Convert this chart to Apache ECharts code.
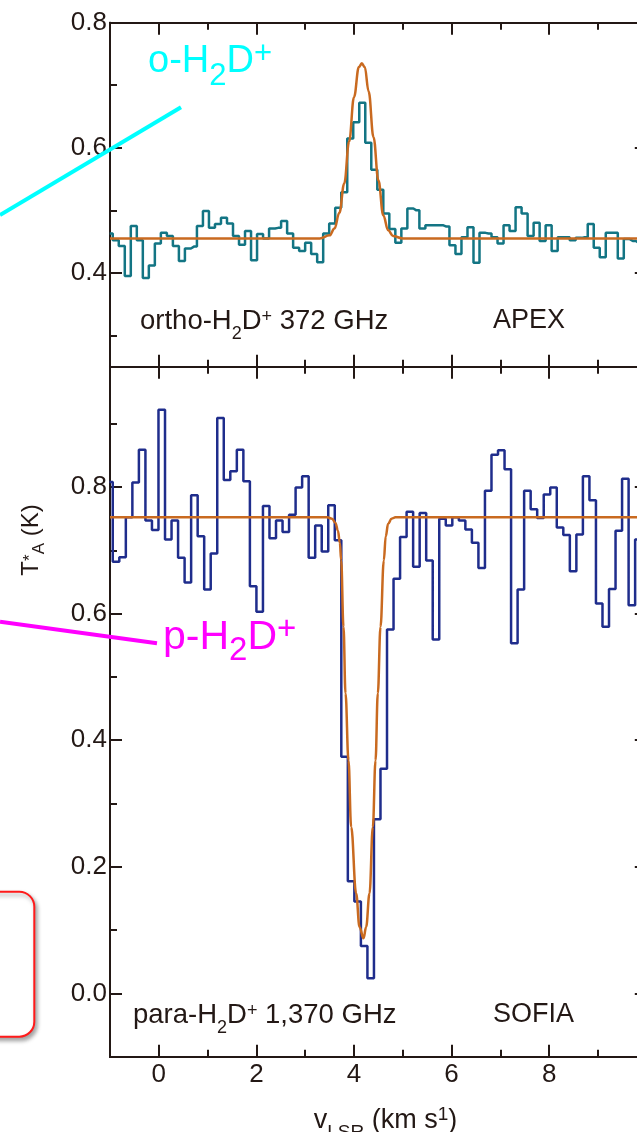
<!DOCTYPE html>
<html>
<head>
<meta charset="utf-8">
<title>H2D+ spectra</title>
<script src="https://cdn.jsdelivr.net/npm/echarts@6/dist/echarts.min.js"></script>
<style>
  html, body { margin: 0; padding: 0; background: #fff; }
  #chart { width: 637px; height: 1132px; }
</style>
</head>
<body>
<div id="chart"></div>
<script>
// ortho-H2D+ 372 GHz (APEX): channel grid (km/s) and antenna temperature (K)
const orthoVelStart = -1.005;
const orthoVelStep = 0.1232;
const orthoTa = [
  0.463, 0.452, 0.443, 0.395, 0.475, 0.452, 0.392, 0.412, 0.447, 0.464,
  0.459, 0.443, 0.419, 0.439, 0.442, 0.475, 0.499, 0.472, 0.478, 0.488,
  0.479, 0.459, 0.445, 0.467, 0.420, 0.462, 0.455, 0.471, 0.472, 0.483,
  0.463, 0.440, 0.435, 0.448, 0.430, 0.417, 0.463, 0.479, 0.504, 0.529,
  0.615, 0.641, 0.672, 0.608, 0.565, 0.533, 0.495, 0.470, 0.448, 0.471,
  0.503, 0.500, 0.471, 0.476, 0.476, 0.476, 0.474, 0.444, 0.430, 0.457,
  0.473, 0.416, 0.464, 0.463, 0.457, 0.447, 0.476, 0.467, 0.505, 0.495,
  0.459, 0.480, 0.451, 0.476, 0.435, 0.457, 0.457, 0.452, 0.456, 0.457,
  0.478, 0.440, 0.425, 0.464, 0.464, 0.423, 0.454, 0.451, 0.448,
];

// para-H2D+ 1,370 GHz (SOFIA)
const paraVelStart = -1.010;
const paraVelStep = 0.1338;
const paraTa = [
  0.808, 0.682, 0.689, 0.752, 0.807, 0.859, 0.747, 0.732, 0.922, 0.717,
  0.747, 0.688, 0.649, 0.787, 0.722, 0.638, 0.695, 0.909, 0.811, 0.825,
  0.859, 0.809, 0.643, 0.603, 0.770, 0.719, 0.747, 0.729, 0.756, 0.799,
  0.817, 0.688, 0.739, 0.698, 0.771, 0.716, 0.374, 0.177, 0.145, 0.075,
  0.024, 0.275, 0.355, 0.575, 0.655, 0.721, 0.761, 0.674, 0.759, 0.684,
  0.559, 0.750, 0.739, 0.752, 0.747, 0.733, 0.712, 0.672, 0.794, 0.851,
  0.858, 0.828, 0.553, 0.638, 0.794, 0.765, 0.751, 0.788, 0.799, 0.736,
  0.724, 0.667, 0.725, 0.817, 0.779, 0.616, 0.579, 0.639, 0.731, 0.813,
  0.613, 0.717,
];

// fitted profiles
const orthoFitVel = [-1.0, 3.0, 3.3, 3.5, 3.6, 3.7, 3.8, 3.9, 4.0, 4.1, 4.16, 4.22, 4.3, 4.4, 4.5, 4.6, 4.7, 4.8, 5.0, 5.3, 10.0];
const orthoFitTa = [0.455, 0.455, 0.455, 0.460, 0.471, 0.496, 0.543, 0.610, 0.681, 0.729, 0.735, 0.729, 0.690, 0.617, 0.548, 0.492, 0.468, 0.459, 0.455, 0.455, 0.455];

const paraFitVel = [-1.0, 3.0, 3.45, 3.55, 3.62, 3.67, 3.71, 3.737, 3.785, 3.826, 3.887, 3.942, 4.044, 4.113, 4.195, 4.249, 4.318, 4.386, 4.441, 4.488, 4.543, 4.611, 4.65, 4.70, 4.77, 4.85, 5.3, 10.0];
const paraFitTa = [0.752, 0.752, 0.752, 0.750, 0.743, 0.731, 0.712, 0.684, 0.579, 0.474, 0.368, 0.263, 0.158, 0.105, 0.087, 0.105, 0.158, 0.263, 0.368, 0.474, 0.579, 0.684, 0.722, 0.742, 0.750, 0.752, 0.752, 0.752];

// ticks and labels
const velMajorTicks = [0, 2, 4, 6, 8, 10];
const velMinorTicks = [1, 3, 5, 7, 9];
const velLabels = [0, 2, 4, 6, 8];
const orthoMajorTicks = [0.4, 0.6, 0.8];
const orthoMinorTicks = [0.3, 0.5, 0.7];
const paraMajorTicks = [0, 0.2, 0.4, 0.6, 0.8];
const paraMinorTicks = [0.1, 0.3, 0.5, 0.7, 0.9];

const ink = "#231815";
const font = "'Liberation Sans', Arial, sans-serif";

function velAxis(gridIndex, position, ticks, len, labels) {
  return {
    type: "value",
    gridIndex: gridIndex,
    position: position,
    min: -1,
    max: 10,
    axisLine: { show: true, onZero: false, lineStyle: { color: ink, width: 2 } },
    axisTick: { show: true, inside: true, length: len, customValues: ticks, lineStyle: { color: ink, width: 2 } },
    axisLabel: labels
      ? { show: true, customValues: labels, margin: 5, color: ink, fontSize: 26, fontFamily: font }
      : { show: false },
    splitLine: { show: false },
  };
}

function taAxis(gridIndex, position, min, max, ticks, len, labels) {
  return {
    type: "value",
    gridIndex: gridIndex,
    position: position,
    min: min,
    max: max,
    axisLine: { show: true, onZero: false, lineStyle: { color: ink, width: 2 } },
    axisTick: { show: true, inside: true, length: len, customValues: ticks, lineStyle: { color: ink, width: 2 } },
    axisLabel: labels
      ? {
          show: true,
          customValues: labels,
          margin: 3,
          color: ink,
          fontSize: 26,
          fontFamily: font,
          formatter: (v) => v.toFixed(1),
        }
      : { show: false },
    splitLine: { show: false },
  };
}

function pairs(vel, ta) {
  return vel.map((v, i) => [v, ta[i]]);
}

function channels(start, step, ta) {
  return ta.map((t, i) => [start + i * step, t]);
}

// rich text pieces for sub/superscripts
function richStyle(size, subSize, subDrop, supLift) {
  return {
    m: { fontSize: size, fontFamily: font },
    s: { fontSize: subSize, fontFamily: font, padding: [subDrop, 0, 0, 0] },
    p: { fontSize: subSize, fontFamily: font, padding: [0, 0, supLift, 0] },
  };
}

function label(x, y, text, color, rich, align) {
  return {
    type: "text",
    x: x,
    y: y,
    z: 100,
    silent: true,
    style: {
      text: text,
      fill: color,
      rich: rich,
      font: "26px " + font,
      align: align || "left",
      verticalAlign: "middle",
    },
  };
}

const chart = echarts.init(document.getElementById("chart"));

const option = {
  backgroundColor: "#ffffff",
  animation: false,
  grid: [
    { left: 110, top: 22.7, width: 536.8, height: 344, containLabel: false, outerBoundsMode: "none" },
    { left: 110, top: 366.7, width: 536.8, height: 690, containLabel: false, outerBoundsMode: "none" },
  ],
  xAxis: [
    velAxis(0, "bottom", velMajorTicks, 12, null),
    velAxis(0, "bottom", velMinorTicks, 7, null),
    velAxis(0, "top", velMajorTicks, 12, null),
    velAxis(0, "top", velMinorTicks, 7, null),
    velAxis(1, "bottom", velMajorTicks, 12, velLabels),
    velAxis(1, "bottom", velMinorTicks, 7, null),
    velAxis(1, "top", velMajorTicks, 12, null),
    velAxis(1, "top", velMinorTicks, 7, null),
  ],
  yAxis: [
    taAxis(0, "left", 0.25, 0.8, orthoMajorTicks, 12, orthoMajorTicks),
    taAxis(0, "left", 0.25, 0.8, orthoMinorTicks, 7, null),
    taAxis(0, "right", 0.25, 0.8, orthoMajorTicks, 12, null),
    taAxis(0, "right", 0.25, 0.8, orthoMinorTicks, 7, null),
    taAxis(1, "left", -0.1, 0.99, paraMajorTicks, 12, paraMajorTicks),
    taAxis(1, "left", -0.1, 0.99, paraMinorTicks, 7, null),
    taAxis(1, "right", -0.1, 0.99, paraMajorTicks, 12, null),
    taAxis(1, "right", -0.1, 0.99, paraMinorTicks, 7, null),
  ],
  series: [
    {
      name: "ortho-H2D+",
      type: "line",
      xAxisIndex: 0,
      yAxisIndex: 0,
      step: "middle",
      symbol: "none",
      silent: true,
      data: channels(orthoVelStart, orthoVelStep, orthoTa),
      lineStyle: { color: "#137584", width: 2.5 },
      z: 3,
    },
    {
      name: "ortho fit",
      type: "line",
      xAxisIndex: 0,
      yAxisIndex: 0,
      smooth: 0.4,
      smoothMonotone: "x",
      symbol: "none",
      silent: true,
      data: pairs(orthoFitVel, orthoFitTa),
      lineStyle: { color: "#c96a20", width: 2.5 },
      z: 4,
    },
    {
      name: "para-H2D+",
      type: "line",
      xAxisIndex: 4,
      yAxisIndex: 4,
      step: "middle",
      symbol: "none",
      silent: true,
      data: channels(paraVelStart, paraVelStep, paraTa),
      lineStyle: { color: "#1f2d8c", width: 2.5 },
      z: 3,
    },
    {
      name: "para fit",
      type: "line",
      xAxisIndex: 4,
      yAxisIndex: 4,
      smooth: 0.4,
      smoothMonotone: "x",
      symbol: "none",
      silent: true,
      data: pairs(paraFitVel, paraFitTa),
      lineStyle: { color: "#c96a20", width: 2.5 },
      z: 4,
    },
  ],
  graphic: [
    // red callout box at the left edge
    {
      type: "rect",
      z: 90,
      silent: true,
      shape: { x: -20, y: 891.7, width: 54.3, height: 145, r: 15 },
      style: {
        fill: "#ffffff",
        stroke: "#ff1a1a",
        lineWidth: 2,
        shadowBlur: 4,
        shadowOffsetX: 2,
        shadowOffsetY: 3,
        shadowColor: "rgba(0,0,0,0.35)",
      },
    },
    // pointer lines
    {
      type: "line",
      z: 100,
      silent: true,
      shape: { x1: 0, y1: 215, x2: 181, y2: 107.3 },
      style: { stroke: "#00ffff", lineWidth: 4 },
    },
    {
      type: "line",
      z: 100,
      silent: true,
      shape: { x1: 0, y1: 621.7, x2: 157, y2: 643.3 },
      style: { stroke: "#ff00ff", lineWidth: 4 },
    },
    label(148, 62, "{m|o-H}{s|2}{m|D}{p|+}", "#00ffff", richStyle(38, 31, 28, 16)),
    label(163, 637.5, "{m|p-H}{s|2}{m|D}{p|+}", "#ff00ff", richStyle(41, 33, 27, 16)),
    // panel captions
    label(140, 321.5, "{m|ortho-H}{s|2}{m|D}{p|+}{m| 372 GHz}", ink, richStyle(27.5, 18, 26, 8)),
    label(493, 321, "{m|APEX}", ink, richStyle(27, 18, 0, 0)),
    label(133, 1015, "{m|para-H}{s|2}{m|D}{p|+}{m| 1,370 GHz}", ink, richStyle(27.5, 18, 26, 8)),
    label(493, 1015, "{m|SOFIA}", ink, richStyle(27, 18, 0, 0)),
    // axis titles
    label(385.5, 1120.6, "{m|v}{s|LSR}{m| (km s}{p|1}{m|)}", ink, richStyle(27, 19, 24, 11), "center"),
    Object.assign(label(31, 540, "{m|T}{p|*}{s|A}{m| (K)}", ink, richStyle(24, 17, 17, 2), "center"), {
      rotation: Math.PI / 2,
    }),
  ],
};

chart.setOption(option);
</script>
</body>
</html>
